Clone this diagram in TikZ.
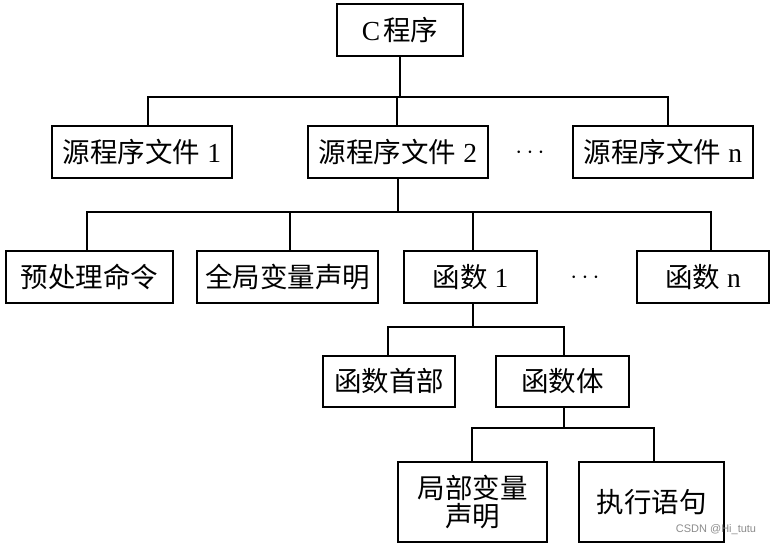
\documentclass[tikz,border=0pt]{standalone}
\usepackage{fontspec}
\setmainfont{Liberation Serif}
\newfontfamily\zh{Noto Sans CJK SC}
\newfontfamily\lt{Liberation Serif}
\newfontfamily\wm{Liberation Sans}
\newcommand{\gapz}{\hspace{7pt}}
\begin{document}
\begin{tikzpicture}[x=1pt,y=-1pt,
  box/.style={draw,line width=1.2pt,inner sep=0pt,align=center,
    font=\fontsize{27.5}{28}\zh},
  link/.style={line width=1.2pt},
  dotsnode/.style={inner sep=0pt,font=\fontsize{34}{34}\selectfont}]
\useasboundingbox (0,0) rectangle (776,545);
\node[box,minimum width=126pt,minimum height=52pt] (c) at (400,30) {{\lt C}\hspace{3pt}程序};
\node[box,minimum width=180pt,minimum height=52pt] (f1) at (142,152) {源程序文件\gapz{\lt 1}};
\node[box,minimum width=180pt,minimum height=52pt] (f2) at (398,152) {源程序文件\gapz{\lt 2}};
\node[dotsnode] (d1) at (530,153) {$\cdots$};
\node[box,minimum width=180pt,minimum height=52pt] (fn) at (663,152) {源程序文件\gapz{\lt n}};
\node[box,minimum width=167pt,minimum height=52pt] (p) at (89.5,277) {预处理命令};
\node[box,minimum width=181pt,minimum height=52pt] (g) at (287.5,277) {全局变量声明};
\node[box,minimum width=133pt,minimum height=52pt] (fun1) at (470.5,277) {函数\gapz{\lt 1}};
\node[dotsnode] (d2) at (585,278) {$\cdots$};
\node[box,minimum width=132pt,minimum height=52pt] (funn) at (703,277) {函数\gapz{\lt n}};
\node[box,minimum width=132pt,minimum height=51pt] (head) at (389,381.5) {函数首部};
\node[box,minimum width=133pt,minimum height=51pt] (body) at (562.5,381.5) {函数体};
\node[box,minimum width=149pt,minimum height=80pt] (loc) at (472.5,502) {局部变量\\声明};
\node[box,minimum width=145pt,minimum height=80pt] (exe) at (651.5,502) {执行语句};
\node[inner sep=0pt,text=black!45,font=\fontsize{11}{12}\wm] (wmk) at (716,530) {CSDN @Hi\_tutu};
% level 1 -> 2
\draw[link] (c.south) -- (400,97) -| ([xshift=6pt]f1.north);
\draw[link] (400,97) -| ([xshift=-1pt]f2.north);
\draw[link] (400,97) -| ([xshift=5pt]fn.north);
% level 2 -> 3
\draw[link] (f2.south) -- (398,212) -| ([xshift=-2.5pt]p.north);
\draw[link] (398,212) -| ([xshift=2.5pt]g.north);
\draw[link] (398,212) -| ([xshift=2.5pt]fun1.north);
\draw[link] (398,212) -| ([xshift=8pt]funn.north);
% level 3 -> 4
\draw[link] ([xshift=2.5pt]fun1.south) -- (473,327) -| ([xshift=-1pt]head.north);
\draw[link] (473,327) -| ([xshift=1.5pt]body.north);
% level 4 -> 5
\draw[link] ([xshift=1.5pt]body.south) -- (564,428) -| ([xshift=-0.5pt]loc.north);
\draw[link] (564,428) -| ([xshift=2.5pt]exe.north);
\end{tikzpicture}
\end{document}
